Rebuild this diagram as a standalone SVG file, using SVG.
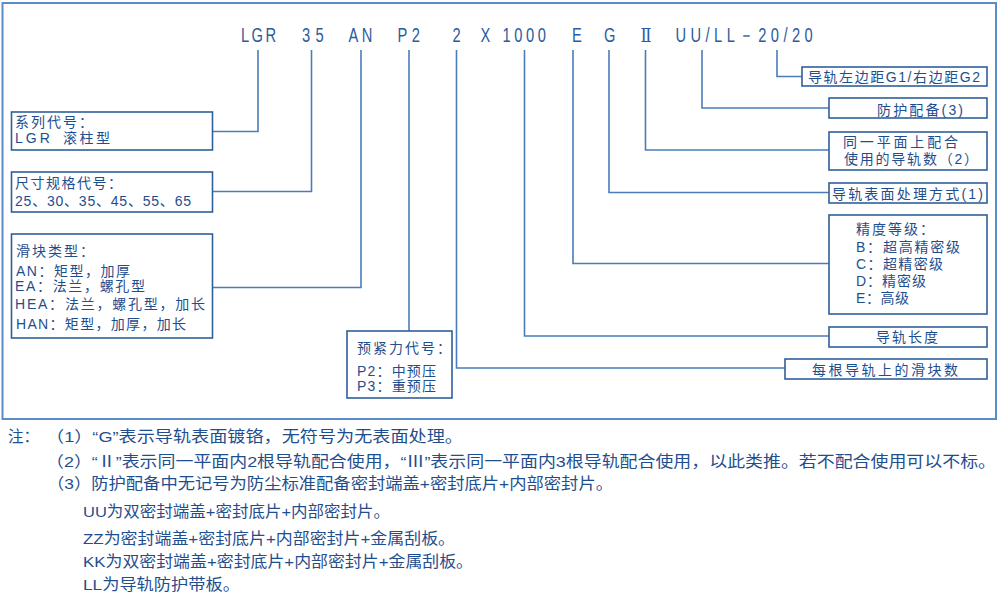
<svg xmlns="http://www.w3.org/2000/svg" width="1000" height="601" viewBox="0 0 1000 601">
<defs>
<style>
.frame{fill:none;stroke:#5b8cc8;stroke-width:2}
.box{fill:#fff;stroke:#2f5f9a;stroke-width:1.6}
.conn{fill:none;stroke:#4a7cba;stroke-width:1.6}
.code{font-family:"Liberation Sans","DejaVu Sans",sans-serif;font-size:21px;fill:#2b5c9c}
.t{font-family:"Liberation Sans","Noto Sans CJK SC",sans-serif;font-size:14px;fill:#1f4e8e;letter-spacing:2px}
.n{font-family:"Liberation Sans","Noto Sans CJK SC",sans-serif;font-size:15.5px;fill:#1f4e8e}
</style>
</defs>
<rect width="1000" height="601" fill="#fff"/>
<rect class="frame" x="2.5" y="3" width="993.5" height="416"/>

<g id="code">
<text class="code" transform="translate(241,42) scale(0.7,1)" textLength="50" lengthAdjust="spacing">LGR</text>
<text class="code" transform="translate(302,42) scale(0.7,1)" textLength="31" lengthAdjust="spacing">35</text>
<text class="code" transform="translate(348.5,42) scale(0.7,1)" textLength="34" lengthAdjust="spacing">AN</text>
<text class="code" transform="translate(397.5,42) scale(0.7,1)" textLength="32" lengthAdjust="spacing">P2</text>
<text class="code" transform="translate(452.5,42) scale(0.7,1)">2</text>
<text class="code" transform="translate(480.5,42) scale(0.7,1)">X</text>
<text class="code" transform="translate(502.5,42) scale(0.7,1)" textLength="62" lengthAdjust="spacing">1000</text>
<text class="code" transform="translate(572,42) scale(0.7,1)">E</text>
<text class="code" transform="translate(604,42) scale(0.7,1)">G</text>
<text class="code" x="640.5" y="42" textLength="11" lengthAdjust="spacingAndGlyphs" style="font-family:'DejaVu Serif','Noto Sans CJK SC',serif;font-size:19px">Ⅱ</text>
<text class="code" transform="translate(675.5,42) scale(0.7,1)" textLength="196" lengthAdjust="spacing">UU/LL－20/20</text>
</g>

<g id="connectors">
<path class="conn" d="M258,50 V131.5 H213"/>
<path class="conn" d="M311.5,50 V191.5 H213"/>
<path class="conn" d="M361,50 V287.5 H213"/>
<path class="conn" d="M409,50 V331"/>
<path class="conn" d="M456.5,50 V368 H785"/>
<path class="conn" d="M524.5,50 V336 H829"/>
<path class="conn" d="M573,50 V263.5 H829"/>
<path class="conn" d="M609,50 V192.5 H829"/>
<path class="conn" d="M645.5,50 V150 H829"/>
<path class="conn" d="M702,50 V108 H829"/>
<path class="conn" d="M777,50 V76.5 H802"/>
</g>

<g id="series">
<rect class="box" x="11.5" y="112" width="201" height="38"/>
<text class="t" x="15" y="127">系列代号：</text>
<text class="t" x="15" y="143" style="letter-spacing:3px">LGR</text>
<text class="t" x="63" y="143" textLength="49" lengthAdjust="spacing">滚柱型</text>
</g>

<g id="size">
<rect class="box" x="11.5" y="172" width="201" height="40"/>
<text class="t" x="15" y="188" style="letter-spacing:1.5px">尺寸规格代号：</text>
<text class="t" x="15" y="206" textLength="178" lengthAdjust="spacing">25、30、35、45、55、65</text>
</g>

<g id="block">
<rect class="box" x="11.5" y="234" width="201" height="104"/>
<text class="t" x="16" y="256">滑块类型：</text>
<text class="t" x="16" y="276" textLength="116" lengthAdjust="spacing">AN：矩型，加厚</text>
<text class="t" x="15" y="291" textLength="132" lengthAdjust="spacing">EA：法兰，螺孔型</text>
<text class="t" x="15" y="309" textLength="192" lengthAdjust="spacing">HEA：法兰，螺孔型，加长</text>
<text class="t" x="16" y="329" textLength="172" lengthAdjust="spacing">HAN：矩型，加厚，加长</text>
</g>

<g id="preload">
<rect class="box" x="347" y="331" width="105" height="67"/>
<text class="t" x="357" y="353">预紧力代号：</text>
<text class="t" x="357" y="376" textLength="81" lengthAdjust="spacing">P2：中预压</text>
<text class="t" x="357" y="391" textLength="81" lengthAdjust="spacing">P3：重预压</text>
</g>

<g id="margin">
<rect class="box" x="802" y="67" width="185" height="19"/>
<text class="t" x="808" y="82" textLength="174" lengthAdjust="spacing">导轨左边距G1/右边距G2</text>
</g>

<g id="protect">
<rect class="box" x="829" y="98" width="158" height="20"/>
<text class="t" x="877" y="115" textLength="88" lengthAdjust="spacing">防护配备(3)</text>
</g>

<g id="rails">
<rect class="box" x="829" y="132" width="158" height="38"/>
<text class="t" x="843" y="147" textLength="117" lengthAdjust="spacing">同一平面上配合</text>
<text class="t" x="844" y="164" textLength="136" lengthAdjust="spacing">使用的导轨数（2）</text>
</g>

<g id="surface">
<rect class="box" x="829" y="183" width="158" height="20"/>
<text class="t" x="832" y="199" textLength="153" lengthAdjust="spacing">导轨表面处理方式(1)</text>
</g>

<g id="accuracy">
<rect class="box" x="829" y="215" width="158" height="99"/>
<text class="t" x="856" y="234">精度等级：</text>
<text class="t" x="856" y="252" textLength="106" lengthAdjust="spacing">B：超高精密级</text>
<text class="t" x="856" y="269" textLength="89" lengthAdjust="spacing">C：超精密级</text>
<text class="t" x="856" y="286" textLength="72" lengthAdjust="spacing">D：精密级</text>
<text class="t" x="856" y="303" textLength="55" lengthAdjust="spacing">E：高级</text>
</g>

<g id="length">
<rect class="box" x="829" y="327" width="158" height="20"/>
<text class="t" x="876" y="342" textLength="64" lengthAdjust="spacing">导轨长度</text>
</g>

<g id="count">
<rect class="box" x="785" y="359" width="202" height="20"/>
<text class="t" x="812" y="375" textLength="148" lengthAdjust="spacing">每根导轨上的滑块数</text>
</g>

<g id="notes">
<text class="n" x="8" y="442">注：</text>
<text class="n" x="46" y="442" textLength="417" lengthAdjust="spacingAndGlyphs">（1）“G”表示导轨表面镀铬，无符号为无表面处理。</text>
<text class="n" x="46" y="467" textLength="950" lengthAdjust="spacingAndGlyphs">（2）“Ⅱ”表示同一平面内2根导轨配合使用，“Ⅲ”表示同一平面内3根导轨配合使用，以此类推。若不配合使用可以不标。</text>
<text class="n" x="47" y="489" textLength="566" lengthAdjust="spacingAndGlyphs">（3）防护配备中无记号为防尘标准配备密封端盖+密封底片+内部密封片。</text>
<text class="n" x="83" y="517" textLength="307" lengthAdjust="spacingAndGlyphs">UU为双密封端盖+密封底片+内部密封片。</text>
<text class="n" x="83" y="544" textLength="372" lengthAdjust="spacingAndGlyphs">ZZ为密封端盖+密封底片+内部密封片+金属刮板。</text>
<text class="n" x="83" y="567" textLength="390" lengthAdjust="spacingAndGlyphs">KK为双密封端盖+密封底片+内部密封片+金属刮板。</text>
<text class="n" x="83" y="590" textLength="157" lengthAdjust="spacingAndGlyphs">LL为导轨防护带板。</text>
</g>
</svg>
